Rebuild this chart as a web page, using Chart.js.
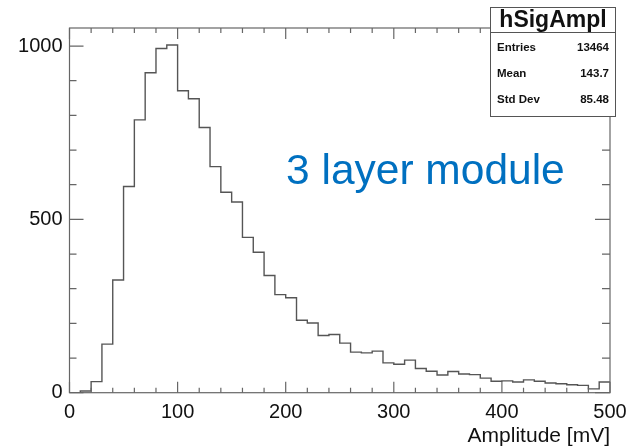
<!DOCTYPE html>
<html>
<head>
<meta charset="utf-8">
<script src="https://cdn.jsdelivr.net/npm/chart.js@4/dist/chart.umd.min.js"></script>
<style>
html,body{margin:0;padding:0;background:#fff;}
#wrap{position:relative;width:628px;height:447px;overflow:hidden;font-family:"Liberation Sans",Arial,Helvetica,sans-serif;}
canvas{display:block;}
#stats{position:absolute;left:490px;top:7px;width:126px;height:110px;border:1px solid #555;background:#fff;box-sizing:border-box;}
#stats .sep{position:absolute;left:0;right:0;top:24px;border-top:1px solid #555;}
.txt{position:absolute;white-space:nowrap;color:#111;}
#stitle{left:0;width:124px;text-align:center;top:-2px;font-size:23px;line-height:26px;font-weight:bold;}
.lab{left:6px;font-size:11.5px;line-height:14px;font-weight:bold;}
.val{right:6px;font-size:11.5px;line-height:14px;font-weight:bold;text-align:right;}
#note{position:absolute;left:286px;top:146px;font-size:42.5px;line-height:48px;color:#0070C0;white-space:nowrap;}
</style>
</head>
<body>
<div id="wrap">
<canvas id="c" width="628" height="447"></canvas>
<div id="stats"></div>
<div id="note"></div>
</div>
<script>
// ---- data ----
const histName = "hSigAmpl";
const binLow = 0;
const binWidth = 10;
const counts = [0, 5, 32, 140, 325, 595, 787, 923, 993, 1003,
                871, 848, 765, 652, 578, 550, 448, 405, 338, 283,
                274, 209, 201, 165, 168, 143, 117, 115, 120, 86,
                82, 94, 70, 62, 51, 61, 54, 52, 42, 33,
                34, 31, 37, 33, 28, 26, 23, 21, 11, 31];
const xTicks = [0, 100, 200, 300, 400, 500];
const yTicks = [0, 500, 1000];
const statLabels = ["Entries", "Mean", "Std Dev"];
const statValues = ["13464", "143.7", "85.48"];
const xTitle = "Amplitude [mV]";
const noteText = "3 layer module";

// ---- build ----
const pts = counts.map((c, i) => ({x: binLow + i * binWidth, y: c}));
pts.push({x: binLow + counts.length * binWidth, y: counts[counts.length - 1]});

const stats = document.getElementById('stats');
stats.innerHTML = '<div class="txt" id="stitle"></div><div class="sep"></div>';
document.getElementById('stitle').textContent = histName;
const rowTops = [32, 58, 84];
statLabels.forEach((l, i) => {
  const a = document.createElement('div'); a.className = 'txt lab'; a.style.top = rowTops[i] + 'px'; a.textContent = l; stats.appendChild(a);
  const b = document.createElement('div'); b.className = 'txt val'; b.style.top = rowTops[i] + 'px'; b.textContent = statValues[i]; stats.appendChild(b);
});
document.getElementById('note').textContent = noteText;

Chart.defaults.font.family = '"Liberation Sans", Arial, Helvetica, sans-serif';

const frameTicks = {
  id: 'frameTicks',
  afterDatasetsDraw(chart) {
    const {ctx, chartArea: a, scales: {x, y}} = chart;
    ctx.save();
    ctx.strokeStyle = '#666';
    ctx.lineWidth = 1.2;
    ctx.strokeRect(a.left, a.top, a.right - a.left, a.bottom - a.top);
    ctx.beginPath();
    for (let v = x.min; v <= x.max + 1e-6; v += 20) {
      const px = x.getPixelForValue(v);
      const major = v % 100 === 0;
      const len = major ? 11 : 5;
      ctx.moveTo(px, a.bottom); ctx.lineTo(px, a.bottom - len);
      ctx.moveTo(px, a.top); ctx.lineTo(px, a.top + len);
    }
    for (let v = 0; v <= y.max; v += 100) {
      const py = y.getPixelForValue(v);
      const major = v % 500 === 0;
      ctx.moveTo(a.left, py); ctx.lineTo(a.left + (major ? 14 : 7), py);
      ctx.moveTo(a.right, py); ctx.lineTo(a.right - (major ? 15 : 8), py);
    }
    ctx.stroke();
    ctx.restore();
  }
};

new Chart(document.getElementById('c'), {
  type: 'line',
  data: {
    datasets: [{
      data: pts,
      stepped: true,
      borderColor: '#555',
      borderWidth: 1.4,
      pointRadius: 0,
      fill: false,
      tension: 0
    }]
  },
  options: {
    responsive: false,
    animation: false,
    devicePixelRatio: 1,
    layout: {padding: {top: 28, right: 18, left: 0, bottom: 0}},
    plugins: {legend: {display: false}, tooltip: {enabled: false}},
    scales: {
      x: {
        type: 'linear', min: 0, max: 500,
        grid: {display: false, drawTicks: false},
        border: {display: false},
        afterBuildTicks: s => { s.ticks = xTicks.map(v => ({value: v})); },
        afterFit: s => { s.height = 54.3; s.paddingLeft = 0; s.paddingRight = 0; },
        ticks: {font: {size: 20}, color: '#111', padding: 8, maxRotation: 0, autoSkip: false,
                callback: v => String(v)},
        title: {display: true, text: xTitle, align: 'end', color: '#111', font: {size: 21, lineHeight: 1}, padding: {top: 0, bottom: 0}}
      },
      y: {
        min: 0, max: 1052,
        grid: {display: false, drawTicks: false},
        border: {display: false},
        afterBuildTicks: s => { s.ticks = yTicks.map(v => ({value: v})); },
        afterFit: s => { s.width = 69.5; s.paddingTop = 0; s.paddingBottom = 0; },
        ticks: {font: {size: 20}, color: '#111', padding: 7, callback: v => String(v)}
      }
    }
  },
  plugins: [frameTicks]
});
</script>
</body>
</html>
